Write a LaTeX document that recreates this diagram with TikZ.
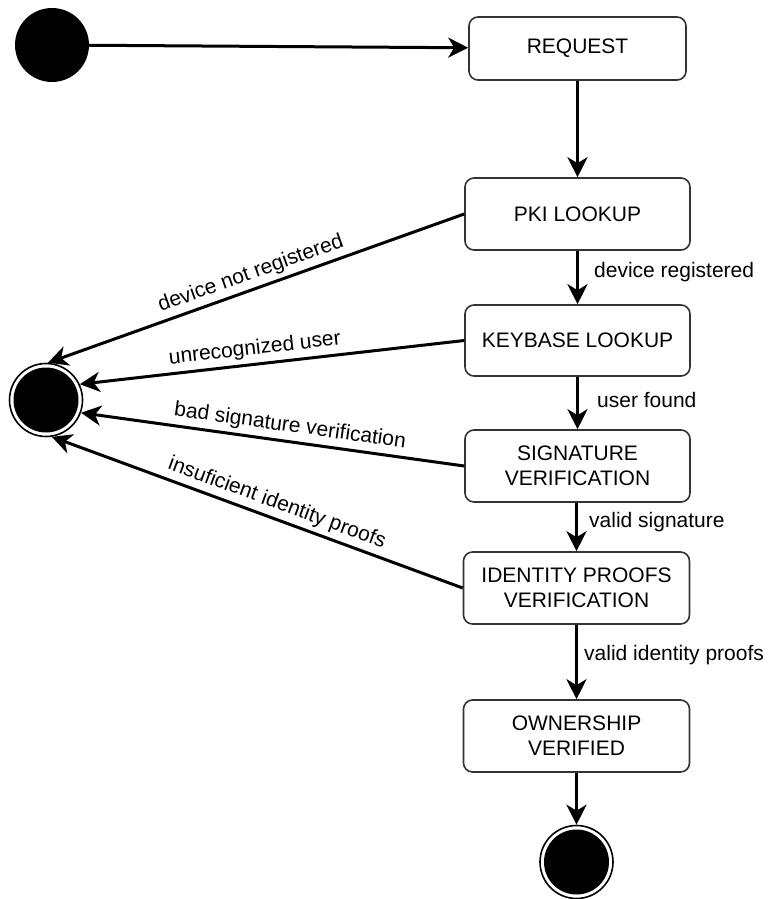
\documentclass[tikz,border=0pt]{standalone}
\usepackage{fontspec}
\setmainfont{Liberation Sans}
\usetikzlibrary{arrows.meta}
\begin{document}
\begin{tikzpicture}[x=1pt,y=-1pt,
  every node/.style={font=\fontsize{21}{25}\selectfont},
  state/.style={draw=black!80, line width=1.6pt, rounded corners=9pt, align=center, inner sep=0pt},
  startnode/.style={circle, fill=black, inner sep=0pt, minimum size=74pt},
  endnode/.style={circle, draw=black, line width=1.6pt, fill=white, inner sep=0pt, minimum size=73pt,
    path picture={\fill[black] (path picture bounding box.center) circle (32.5pt);}},
  conn/.style={line width=3pt, -{Stealth[length=20pt,width=20pt,inset=6pt]}},
  lbl/.style={sloped, above=3pt, inner sep=1pt}
]
\useasboundingbox (0,0) rectangle (770,899);

\node[startnode] (init) at (52,45) {};
\node[state, minimum width=217pt, minimum height=63pt] (req) at (577.5,48.5) {REQUEST};
\node[state, minimum width=225pt, minimum height=72pt] (pki) at (577.5,214) {PKI LOOKUP};
\node[state, minimum width=225pt, minimum height=71pt] (key) at (577.5,340.5) {KEYBASE LOOKUP};
\node[state, minimum width=225pt, minimum height=72pt] (sig) at (577.5,466) {SIGNATURE\\VERIFICATION};
\node[state, minimum width=226pt, minimum height=72pt] (idp) at (576.5,588) {IDENTITY PROOFS\\VERIFICATION};
\node[state, minimum width=226pt, minimum height=72pt] (own) at (576.5,736) {OWNERSHIP\\VERIFIED};
\node[endnode] (endb) at (576.5,862) {};
\node[endnode] (endl) at (46,400) {};

\draw[conn] (init) -- (req);
\draw[conn] (req) -- (pki);
\draw[conn] (pki) -- (key);
\draw[conn] (key) -- (sig);
\draw[conn] (sig.south -| idp) -- (idp);
\draw[conn] (idp) -- (own);
\draw[conn] (own) -- (endb);

\draw[conn] (pki.west) -- node[lbl, pos=0.5] {device not registered} (endl.87);
\draw[conn] (key.west) -- node[lbl, pos=0.54] {unrecognized user} (endl.25);
\draw[conn] (sig.west) -- node[lbl, pos=0.46] {bad signature verification} (endl.-20);
\draw[conn] (idp.west) -- node[lbl, pos=0.465] {insuficient identity proofs} (endl.-81);

\node[anchor=west, inner sep=0pt] (l1) at (594,272) {device registered};
\node[anchor=west, inner sep=0pt] (l2) at (597,400) {user found};
\node[anchor=west, inner sep=0pt] (l3) at (589,522) {valid signature};
\node[anchor=west, inner sep=0pt] (l4) at (584,655) {valid identity proofs};
\end{tikzpicture}
\end{document}
